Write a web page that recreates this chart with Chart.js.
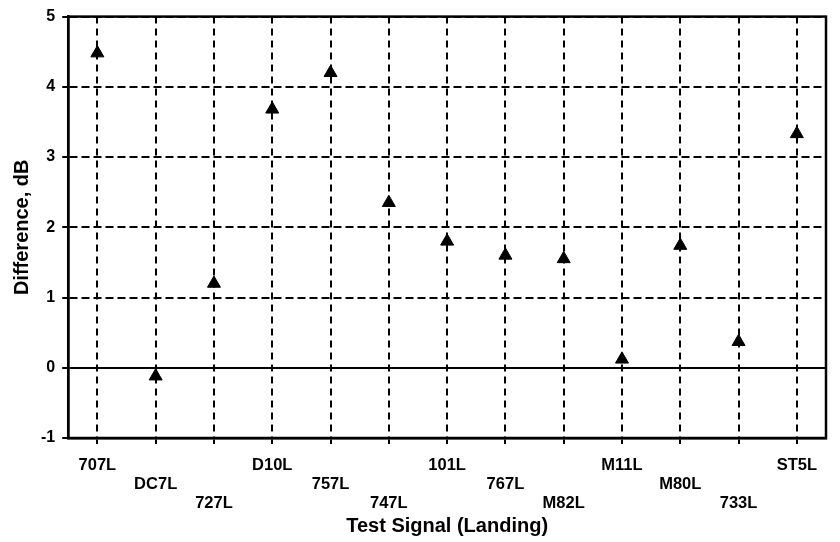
<!DOCTYPE html>
<html>
<head>
<meta charset="utf-8">
<script src="https://cdn.jsdelivr.net/npm/chart.js@4.4.1/dist/chart.umd.min.js"></script>
<style>
  html, body { margin: 0; padding: 0; background: #fff; }
  #wrap { width: 840px; height: 542px; }
</style>
</head>
<body>
<div id="wrap"><canvas id="chart"></canvas></div>
<script>
// Level difference per landing test signal
const signals = ['707L', 'DC7L', '727L', 'D10L', '757L', '747L', '101L', '767L', 'M82L', 'M11L', 'M80L', '733L', 'ST5L'];
const differences = [4.48, -0.12, 1.2, 3.68, 4.2, 2.35, 1.8, 1.6, 1.55, 0.12, 1.74, 0.37, 3.33];
// which of the three label rows each signal name sits on
const labelRows = [0, 1, 2, 0, 1, 2, 0, 1, 2, 0, 1, 2, 0];
const yTicks = [-1, 0, 1, 2, 3, 4, 5];

const FONT = "'Liberation Sans', Arial, sans-serif";

// outline box around the plot area
const frame = {
  id: 'frame',
  afterDraw(chart) {
    const { ctx, chartArea: a } = chart;
    ctx.save();
    ctx.strokeStyle = '#000';
    ctx.lineWidth = 2.5;
    ctx.strokeRect(a.left, a.top, a.right - a.left, a.bottom - a.top);
    ctx.restore();
  }
};

new Chart(document.getElementById('chart').getContext('2d'), {
  type: 'line',
  data: {
    labels: signals,
    datasets: [{
      data: differences,
      showLine: false,
      pointStyle: 'triangle',
      pointRadius: 7.5,
      pointHoverRadius: 7.5,
      pointBackgroundColor: '#000',
      pointBorderColor: '#000',
      pointBorderWidth: 1
    }]
  },
  options: {
    responsive: true,
    maintainAspectRatio: false,
    animation: false,
    events: [],
    layout: { padding: { top: 15, right: 14, left: 4, bottom: 6 } },
    plugins: { legend: { display: false }, tooltip: { enabled: false } },
    scales: {
      x: {
        offset: true,
        grid: {
          color: '#000',
          lineWidth: 2,
          offset: false,
          tickLength: 6,
          tickWidth: 2,
          tickColor: '#000',
          tickBorderDash: []
        },
        border: { display: true, color: '#000', width: 2.5, dash: [7, 5] },
        ticks: {
          color: '#000',
          padding: 11.5,
          maxRotation: 0,
          autoSkip: false,
          font: { family: FONT, size: 16.5, weight: 'bold', lineHeight: '19px' },
          callback: (v, i) => {
            const lines = [];
            for (let r = 0; r < labelRows[i]; r++) lines.push('');
            lines.push(signals[i]);
            return lines;
          }
        },
        title: {
          display: true,
          text: 'Test Signal (Landing)',
          color: '#000',
          font: { family: FONT, size: 20, weight: 'bold', lineHeight: 1 },
          // tick padding is counted twice in the axis height, pull the title back up
          padding: { top: -8, bottom: 0 }
        }
      },
      y: {
        min: -1,
        max: 5,
        afterBuildTicks: axis => { axis.ticks = yTicks.map(v => ({ value: v })); },
        grid: {
          color: '#000',
          lineWidth: 2,
          tickLength: 6,
          tickWidth: 2,
          tickColor: '#000',
          tickBorderDash: []
        },
        border: {
          display: true,
          color: '#000',
          width: 2.5,
          dash: ctx => (ctx.tick && ctx.tick.value === 0 ? [] : [8, 4])
        },
        ticks: {
          color: '#000',
          padding: 7,
          font: { family: FONT, size: 16, weight: 'bold' }
        },
        title: {
          display: true,
          text: 'Difference, dB',
          color: '#000',
          font: { family: FONT, size: 20, weight: 'bold' },
          padding: { top: 6, bottom: 0 }
        }
      }
    }
  },
  plugins: [frame]
});
</script>
</body>
</html>
